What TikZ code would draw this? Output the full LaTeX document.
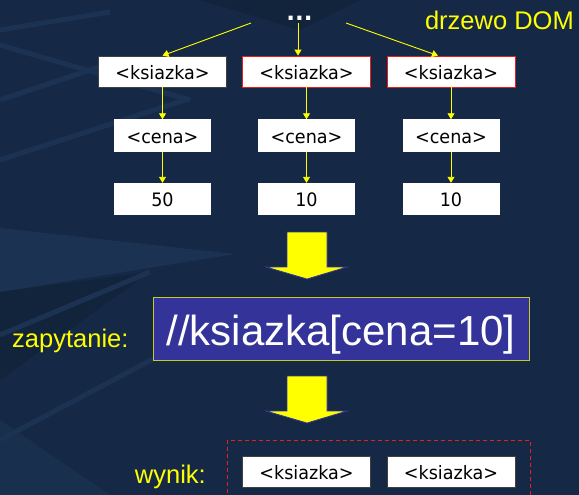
\documentclass[tikz,border=0pt]{standalone}
\usepackage{fontspec}
\setmainfont{Liberation Sans}
\newfontfamily\boxfont[FakeStretch=0.95]{DejaVu Sans}
\newfontfamily\dotfont{DejaVu Sans}
\usetikzlibrary{arrows.meta,calc}
\definecolor{bg}{RGB}{21,41,70}
\definecolor{bgl}{RGB}{28,50,82}
\definecolor{bgd}{RGB}{18,35,60}
\definecolor{qfill}{RGB}{51,51,153}
\definecolor{qline}{RGB}{200,200,40}
\definecolor{ylw}{RGB}{255,255,0}
\definecolor{redb}{RGB}{235,30,30}
\begin{document}
\begin{tikzpicture}[x=1pt,y=-1pt,
  tbox/.style={draw=black!75,fill=white,line width=0.8pt,minimum width=128pt,minimum height=31pt,
    inner sep=0pt,text height=15.5pt,text depth=0pt,font=\boxfont\fontsize{18.5}{21}\selectfont,text=black},
  hbox/.style={tbox,draw=redb},
  sbox/.style={fill=white,minimum width=97pt,minimum height=32pt,inner sep=0pt,
    text height=15.5pt,text depth=0pt,font=\boxfont\fontsize{18.5}{21}\selectfont,text=black},
  conn/.style={draw=ylw,line width=0.9pt,-{Triangle[width=7pt,length=6pt]}},
  lbl/.style={text=ylw,font=\fontsize{25.5}{28}\selectfont,inner sep=0pt},
  texture/.style={draw=bgl,line width=5pt},
  bigarrow/.style={fill=ylw,draw=qfill,line width=0.8pt,line join=miter}]
\useasboundingbox (0,0) rectangle (579,495);
\fill[bg] (0,0) rectangle (579,495);
% faint background texture
\fill[bgd] (200,0) -- (360,0) -- (300,30) -- cycle;
\fill[bgl] (0,228) -- (235,254) -- (0,292) -- cycle;
\fill[bgd] (0,292) -- (150,272) -- (0,380) -- cycle;
\fill[bgl,opacity=0.7] (0,420) -- (110,495) -- (0,495) -- cycle;
\draw[texture] (0,30) -- (110,12);
\draw[texture] (0,45) -- (190,100);
\draw[texture] (0,100) -- (120,60);
\draw[texture] (0,160) -- (185,100);
\draw[texture] (0,335) -- (150,272);
\draw[texture] (0,440) -- (170,350);

% labels
\node[lbl,anchor=base east] (dom) at (574,29.3) {drzewo DOM};
\node[text=white,font=\dotfont\bfseries\fontsize{23}{25}\selectfont,inner sep=0pt,anchor=base] (dots) at (299.5,20.7) {...};

% row 1
\node[tbox] (k1) at (162.5,71.5) {<ksiazka>};
\node[hbox] (k2) at (306.5,71.5) {<ksiazka>};
\node[hbox] (k3) at (451,71.5) {<ksiazka>};
% row 2
\node[sbox] (c1) at (162.5,135.5) {<cena>};
\node[sbox] (c2) at (306.5,135.5) {<cena>};
\node[sbox] (c3) at (451,135.5) {<cena>};
% row 3
\node[sbox] (v1) at (162.5,199) {50};
\node[sbox] (v2) at (306.5,199) {10};
\node[sbox] (v3) at (451,199) {10};

% connectors from dots
\coordinate (s1) at (251,23);
\coordinate (s2) at (298,23);
\coordinate (s3) at (346,23);
\draw[conn] (s1) -- (k1.north);
\draw[conn] (s2) -- (s2 |- k2.north);
\draw[conn] (s3) -- ($(k3.north)+(-13,0)$);
\foreach \i in {1,2,3}{
  \draw[conn] (k\i) -- (c\i);
  \draw[conn] (c\i) -- (v\i);
}

% big arrow 1
\draw[bigarrow] (287,232) -- (327,232) -- (327,267) -- (347,267) -- (307,279) -- (266,267) -- (287,267) -- cycle;

% query
\node[draw=qline,fill=qfill,line width=1pt,minimum width=376pt,minimum height=63pt,inner sep=0pt,
  text=white,text height=40pt,text depth=7pt,font=\fontsize{42}{46}\selectfont] (q) at (341,328.5) {//ksiazka[cena=10]};
\node[lbl,anchor=base west] (zap) at (12,347) {zapytanie:};

% big arrow 2
\draw[bigarrow] (287,376) -- (327,376) -- (327,411) -- (347,411) -- (307,423) -- (266,411) -- (287,411) -- cycle;

% result
\draw[redb,line width=0.9pt,dash pattern=on 4pt off 3pt] (227,440) rectangle (530,505);
\node[lbl,anchor=base east] (wyn) at (206,483) {wynik:};
\node[tbox] (r1) at (306.5,471.5) {<ksiazka>};
\node[tbox] (r2) at (451,471.5) {<ksiazka>};
\end{tikzpicture}
\end{document}
